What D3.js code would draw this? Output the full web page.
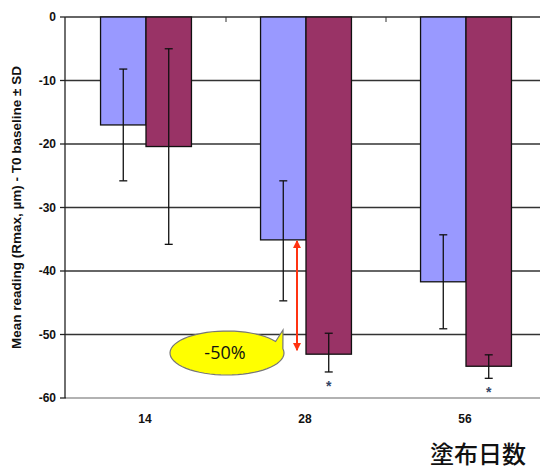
<!DOCTYPE html>
<html><head><meta charset="utf-8">
<script src="https://cdn.jsdelivr.net/npm/d3@7"></script>
<style>body{margin:0;background:#fff}svg{display:block}</style>
</head><body>
<svg id="c" width="542" height="472"></svg>
<script>
const categories = ["14", "28", "56"];
const seriesNames = ["A", "B"];
const meanA = [-17.0, -35.1, -41.7];
const meanB = [-20.4, -53.1, -55.0];
const sdTopA = [-8.2, -25.8, -34.3];
const sdBotA = [-25.8, -44.7, -49.1];
const sdTopB = [-5.0, -49.8, -53.2];
const sdBotB = [-35.8, -55.9, -56.9];
const significant = [false, true, true];
const yTicks = [0, -10, -20, -30, -40, -50, -60];
const colors = ["#9999ff", "#993366"];

const svg = d3.select("#c");
const L = 66, R = 546, T = 17, B = 398;
const x = d3.scaleBand().domain(categories).range([L, R]);
const xs = d3.scaleBand().domain(seriesNames).range([0, x.bandwidth()]).paddingOuter(0.76).paddingInner(0);
const y = d3.scaleLinear().domain([0, -60]).range([T, B]);

// gridlines
svg.append("g").selectAll("line").data(yTicks.filter(d => d > -60)).join("line")
  .attr("x1", L).attr("x2", 540).attr("y1", d => y(d)).attr("y2", d => y(d))
  .attr("stroke", "#333").attr("stroke-width", 1.3);

// x axis line (bottom)
svg.append("line").attr("x1", L).attr("x2", 540).attr("y1", y(-60)).attr("y2", y(-60))
  .attr("stroke", "#999").attr("stroke-width", 1.3);

// category tick marks at top
svg.append("g").selectAll("line").data(categories.slice(1)).join("line")
  .attr("x1", d => x(d)).attr("x2", d => x(d)).attr("y1", T).attr("y2", T + 5)
  .attr("stroke", "#333").attr("stroke-width", 1);

const data = categories.map((c, i) => [
  {c, s: "A", v: meanA[i], t: sdTopA[i], b: sdBotA[i], col: colors[0]},
  {c, s: "B", v: meanB[i], t: sdTopB[i], b: sdBotB[i], col: colors[1]}
]).flat();

svg.append("g").selectAll("rect").data(data).join("rect")
  .attr("x", d => x(d.c) + xs(d.s)).attr("width", xs.bandwidth())
  .attr("y", y(0)).attr("height", d => y(d.v) - y(0))
  .attr("fill", d => d.col).attr("stroke", "#111").attr("stroke-width", 1.3);

// error bars
const eb = svg.append("g").attr("stroke", "#111").attr("stroke-width", 1.3);
data.forEach(d => {
  const cx = x(d.c) + xs(d.s) + xs.bandwidth() / 2;
  eb.append("line").attr("x1", cx).attr("x2", cx).attr("y1", y(d.t)).attr("y2", y(d.b));
  eb.append("line").attr("x1", cx - 4).attr("x2", cx + 4).attr("y1", y(d.t)).attr("y2", y(d.t));
  eb.append("line").attr("x1", cx - 4).attr("x2", cx + 4).attr("y1", y(d.b)).attr("y2", y(d.b));
});

// significance stars
categories.forEach((c, i) => {
  if (!significant[i]) return;
  const cx = x(c) + xs("B") + xs.bandwidth() / 2;
  svg.append("text").attr("x", cx).attr("y", y(sdBotB[i]) + 19).attr("text-anchor", "middle")
    .attr("font-family", "Liberation Sans, Arial").attr("font-weight", "bold").attr("font-size", 14).attr("fill", "#334466")
    .text("*");
});

// y axis
svg.append("line").attr("x1", L - 1).attr("x2", L - 1).attr("y1", T).attr("y2", B)
  .attr("stroke", "#222").attr("stroke-width", 1.3);
svg.append("g").selectAll("line").data(yTicks).join("line")
  .attr("x1", L - 6).attr("x2", L).attr("y1", d => y(d)).attr("y2", d => y(d))
  .attr("stroke", "#222").attr("stroke-width", 1.3);
svg.append("g").selectAll("text").data(yTicks).join("text")
  .attr("x", 56).attr("y", d => y(d)).attr("dy", "0.35em").attr("text-anchor", "end")
  .attr("font-family", "Liberation Sans, Arial").attr("font-weight", "bold").attr("font-size", 12)
  .attr("fill", "#111").text(d => d);

svg.append("text").attr("transform", `translate(21,${(T + B) / 2}) rotate(-90)`)
  .attr("text-anchor", "middle").attr("font-family", "Liberation Sans, Arial")
  .attr("font-weight", "bold").attr("font-size", 13.5).attr("fill", "#111")
  .text("Mean reading (Rmax, µm) - T0 baseline ± SD");

svg.append("g").selectAll("text").data(categories).join("text")
  .attr("x", d => x(d) + x.bandwidth() / 2 - 1).attr("y", 423).attr("text-anchor", "middle")
  .attr("font-family", "Liberation Sans, Arial").attr("font-weight", "bold").attr("font-size", 12)
  .attr("fill", "#111").text(d => d);

svg.append("text").attr("x", 478).attr("y", 455).attr("dy", "0.35em").attr("text-anchor", "middle")
  .attr("font-family", "Noto Sans CJK JP").attr("font-weight", 500).attr("font-size", 24).attr("fill", "#111")
  .text("塗布日数");

// red double arrow between blue and purple 28 means
const ax = x("28") + xs("B") - 9;
const ya = y(meanA[1]) + 1, yb = y(meanB[1]) - 4;
const defs = svg.append("defs");
defs.append("marker").attr("id", "ah").attr("viewBox", "0 0 10 10").attr("refX", 9).attr("refY", 5)
  .attr("markerWidth", 4).attr("markerHeight", 4).attr("orient", "auto-start-reverse")
  .append("path").attr("d", "M0,0L10,5L0,10z").attr("fill", "#ff3311");
svg.append("line").attr("x1", ax).attr("x2", ax).attr("y1", ya).attr("y2", yb)
  .attr("stroke", "#ff3311").attr("stroke-width", 2)
  .attr("marker-start", "url(#ah)").attr("marker-end", "url(#ah)");

// callout
const cx0 = 227, cy0 = 353, rx = 57, ry = 22;
const callout = d3.path();
{
  const a1 = -0.55, a2 = -0.2;
  callout.moveTo(cx0 + rx * Math.cos(a1), cy0 + ry * Math.sin(a1));
  callout.lineTo(283, 330);
  callout.lineTo(cx0 + rx * Math.cos(a2), cy0 + ry * Math.sin(a2));
  const n = 60;
  for (let k = 1; k <= n; k++) {
    const a = a2 + (2 * Math.PI - (a2 - a1)) * k / n;
    callout.lineTo(cx0 + rx * Math.cos(a), cy0 + ry * Math.sin(a));
  }
  callout.closePath();
}
svg.append("path").attr("d", callout.toString()).attr("fill", "#ffff00")
  .attr("stroke", "#777").attr("stroke-width", 1.2);
svg.append("text").attr("x", cx0 - 2).attr("y", cy0).attr("dy", "0.35em").attr("text-anchor", "middle")
  .attr("font-family", "Open Sans, Noto Sans").attr("font-size", 18).attr("fill", "#111").text("-50%");
</script>
</body></html>
